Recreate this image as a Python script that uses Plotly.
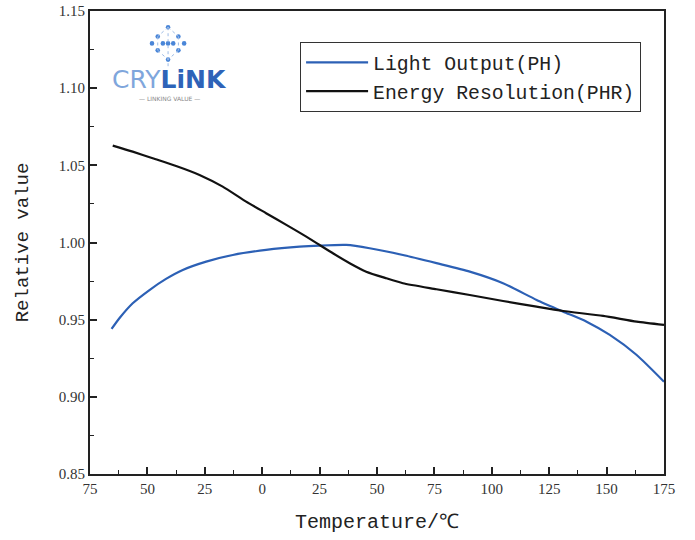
import plotly.graph_objects as go

# Light Output (PH)
ph_temp = [-65.6, -62.2, -56.4, -49.1, -41.9, -34.6, -24.4, -12.8, 1.7, 16.3, 25.0, 36.6,
           46.8, 61.3, 75.9, 90.4, 104.9, 119.5, 131.1, 141.3, 151.4, 163.1, 175.0]
ph_value = [0.9440, 0.9509, 0.9606, 0.9692, 0.9764, 0.9822, 0.9876, 0.9919, 0.9952, 0.9973, 0.9980, 0.9984,
            0.9963, 0.9919, 0.9866, 0.9811, 0.9736, 0.9628, 0.9552, 0.9487, 0.9401, 0.9271, 0.9098]

# Energy Resolution (PHR)
phr_temp = [-65.1, -56.4, -47.7, -37.5, -27.3, -17.2, -7.0, 1.7, 10.5, 19.2, 25.0, 30.8, 38.1,
            45.3, 54.1, 61.3, 75.9, 90.4, 104.9, 119.5, 131.1, 148.5, 163.1, 175.0]
phr_value = [1.0628, 1.0589, 1.0546, 1.0496, 1.0438, 1.0362, 1.0265, 1.0190, 1.0114, 1.0038, 0.9984, 0.9930, 0.9866,
             0.9811, 0.9768, 0.9736, 0.9697, 0.9660, 0.9621, 0.9584, 0.9556, 0.9524, 0.9487, 0.9466]

x_tickvals = [-75, -50, -25, 0, 25, 50, 75, 100, 125, 150, 175]
x_ticktext = ["75", "50", "25", "0", "25", "50", "75", "100", "125", "150", "175"]
y_tickvals = [0.85, 0.90, 0.95, 1.00, 1.05, 1.10, 1.15]

fig = go.Figure()
fig.add_trace(go.Scatter(x=ph_temp, y=ph_value, mode="lines", name="Light Output(PH)",
                         line=dict(color="#2c60b5", width=2.2, shape="spline", smoothing=0.6)))
fig.add_trace(go.Scatter(x=phr_temp, y=phr_value, mode="lines", name="Energy Resolution(PHR)",
                         line=dict(color="#111111", width=2.2, shape="spline", smoothing=0.6)))

axis_font = dict(family="Liberation Serif", size=15, color="#333333")

fig.update_xaxes(range=[-75, 175], tickvals=x_tickvals, ticktext=x_ticktext,
                 ticks="inside", ticklen=7, tickwidth=1.5, tickcolor="#222",
                 minor=dict(ticks="inside", ticklen=4, tickwidth=1.2, tickcolor="#222", dtick=12.5, tick0=-75),
                 showline=True, linecolor="#222", linewidth=1.8, mirror=True,
                 showgrid=False, zeroline=False, tickfont=axis_font, automargin=False,
                 ticklabeloverflow="allow",
                 title=dict(text="Temperature/℃", font=dict(family="Liberation Mono", size=20, color="#222"),
                            standoff=18))
fig.update_yaxes(range=[0.85, 1.15], tickvals=y_tickvals, tickformat=".2f",
                 ticks="inside", ticklen=7, tickwidth=1.5, tickcolor="#222",
                 minor=dict(ticks="inside", ticklen=4, tickwidth=1.2, tickcolor="#222", dtick=0.025, tick0=0.85),
                 showline=True, linecolor="#222", linewidth=1.8, mirror=True,
                 showgrid=False, zeroline=False, tickfont=axis_font, automargin=False,
                 ticklabeloverflow="allow",
                 title=dict(text="Relative value", font=dict(family="Liberation Mono", size=19, color="#222"),
                            standoff=25))

# logo watermark (decoration)
shapes = []
logo_pts = [(0.136, 0.965), (0.118, 0.945), (0.154, 0.945), (0.118, 0.915), (0.154, 0.915),
            (0.136, 0.895), (0.136, 0.93), (0.127, 0.93), (0.145, 0.93), (0.108, 0.93), (0.164, 0.93)]
for (px, py) in logo_pts:
    shapes.append(dict(type="circle", xref="paper", yref="paper",
                       x0=px - 0.004, x1=px + 0.004, y0=py - 0.005, y1=py + 0.005,
                       line=dict(width=0), fillcolor="#4a86d8"))
hexlines = [((0.136, 0.965), (0.118, 0.945)), ((0.136, 0.965), (0.154, 0.945)),
            ((0.118, 0.945), (0.118, 0.915)), ((0.154, 0.945), (0.154, 0.915)),
            ((0.118, 0.915), (0.136, 0.895)), ((0.154, 0.915), (0.136, 0.895)),
            ((0.136, 0.965), (0.136, 0.88))]
for (a, b) in hexlines:
    shapes.append(dict(type="line", xref="paper", yref="paper", x0=a[0], y0=a[1], x1=b[0], y1=b[1],
                       line=dict(color="#9cbbe6", width=1, dash="dot")))

annotations = [
    dict(xref="paper", yref="paper", x=0.139, y=0.851, xanchor="center", yanchor="middle", showarrow=False,
         text="<span style='color:#7fa6dc'>CRY</span><b><span style='color:#2e63b8'>LiNK</span></b>",
         font=dict(family="DejaVu Sans", size=25)),
    dict(xref="paper", yref="paper", x=0.139, y=0.812, xanchor="center", yanchor="middle", showarrow=False,
         text="— LINKING VALUE —", font=dict(family="DejaVu Sans", size=6, color="#888")),
]

fig.update_layout(
    width=695, height=540,
    margin=dict(l=90, r=31, t=11, b=66),
    paper_bgcolor="white", plot_bgcolor="white",
    shapes=shapes, annotations=annotations,
    legend=dict(x=0.366, y=0.933, xanchor="left", yanchor="top",
                bordercolor="#333", borderwidth=1, bgcolor="white",
                font=dict(family="Liberation Mono", size=19.8, color="#222"),
                itemwidth=62, tracegroupgap=0),
    showlegend=True,
)

fig.write_html("out.html", config={"displayModeBar": False},
               post_script="document.body.style.margin='0';")
